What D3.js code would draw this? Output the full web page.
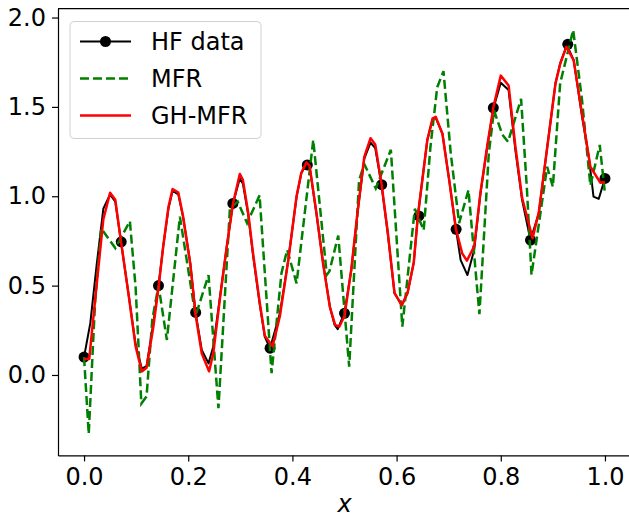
<!DOCTYPE html>
<html>
<head>
<meta charset="utf-8">
<script src="https://cdn.jsdelivr.net/npm/d3@7"></script>
<style>
  body { margin: 0; background: #fff; }
  svg { display: block; }
  text { font-family: "DejaVu Sans", sans-serif; }
</style>
</head>
<body>
<svg id="chart" width="629" height="519"></svg>
<script>
// HF samples (markers)
const hfDataX = [0.0, 0.0714, 0.1429, 0.2143, 0.2857, 0.3571, 0.4286, 0.5, 0.5714, 0.6429, 0.7143, 0.7857, 0.8571, 0.9286, 1.0];
const hfDataY = [0.10, 0.745, 0.50, 0.35, 0.96, 0.15, 1.175, 0.345, 1.065, 0.89, 0.815, 1.495, 0.755, 1.85, 1.10];

// HF reference curve (black)
const hfCurveX = [0.000,0.012,0.024,0.037,0.050,0.060,0.071,0.086,0.099,0.111,0.120,0.133,0.143,0.152,0.162,0.170,0.181,0.190,0.204,0.214,0.226,0.239,0.248,0.261,0.274,0.286,0.299,0.305,0.315,0.324,0.337,0.347,0.357,0.376,0.392,0.408,0.417,0.427,0.433,0.446,0.459,0.472,0.481,0.487,0.500,0.513,0.525,0.538,0.550,0.559,0.571,0.583,0.596,0.610,0.621,0.633,0.641,0.659,0.669,0.675,0.688,0.701,0.714,0.723,0.736,0.749,0.761,0.774,0.786,0.800,0.815,0.828,0.841,0.857,0.873,0.885,0.905,0.914,0.927,0.940,0.956,0.969,0.978,0.988,1.000];
const hfCurveY = [0.10,0.29,0.61,0.93,1.01,0.97,0.745,0.44,0.17,0.035,0.05,0.29,0.50,0.72,0.93,1.03,1.01,0.886,0.625,0.35,0.14,0.065,0.158,0.438,0.718,0.96,1.10,1.07,0.90,0.68,0.40,0.214,0.149,0.345,0.643,0.997,1.128,1.18,1.165,0.905,0.625,0.38,0.28,0.256,0.349,0.587,0.905,1.21,1.30,1.27,1.065,0.793,0.457,0.39,0.457,0.63,0.895,1.315,1.43,1.44,1.35,1.09,0.815,0.643,0.559,0.70,1.016,1.277,1.492,1.635,1.594,1.259,0.979,0.755,0.905,1.18,1.632,1.743,1.846,1.762,1.445,1.221,0.998,0.985,1.10];

// MFR prediction (green dashed)
const mfrX = [0.000,0.009,0.021,0.033,0.060,0.088,0.099,0.110,0.120,0.131,0.143,0.159,0.184,0.214,0.239,0.258,0.280,0.295,0.313,0.337,0.360,0.379,0.390,0.408,0.440,0.466,0.471,0.488,0.509,0.528,0.538,0.560,0.589,0.611,0.635,0.652,0.665,0.678,0.690,0.704,0.720,0.738,0.759,0.777,0.787,0.803,0.814,0.839,0.850,0.859,0.889,0.900,0.914,0.939,0.956,0.972,0.990,1.000];
const mfrY = [0.10,-0.33,0.40,0.82,0.71,0.86,0.49,-0.16,-0.12,0.31,0.50,0.196,0.886,0.33,0.559,-0.186,0.93,0.97,0.85,1.005,0.01,0.57,0.70,0.513,1.315,0.56,0.58,0.78,0.046,1.09,1.18,1.044,1.26,0.27,0.93,0.81,1.277,1.61,1.70,1.24,0.85,1.035,0.34,1.24,1.48,1.345,1.305,1.545,1.05,0.56,1.165,1.053,1.632,1.93,1.538,1.06,1.287,1.016];

// GH-MFR prediction (red)
const ghX = [0.000,0.010,0.024,0.037,0.050,0.060,0.071,0.086,0.099,0.111,0.120,0.133,0.143,0.152,0.162,0.170,0.181,0.190,0.204,0.214,0.226,0.240,0.248,0.261,0.274,0.286,0.299,0.305,0.315,0.324,0.337,0.347,0.362,0.376,0.392,0.408,0.417,0.427,0.433,0.446,0.459,0.472,0.482,0.490,0.500,0.513,0.525,0.538,0.550,0.559,0.571,0.583,0.596,0.610,0.621,0.633,0.641,0.659,0.669,0.675,0.688,0.701,0.714,0.726,0.735,0.749,0.761,0.774,0.786,0.800,0.815,0.828,0.841,0.861,0.873,0.885,0.905,0.914,0.926,0.940,0.956,0.972,0.991,1.000];
const ghY = [0.09,0.09,0.50,0.87,1.02,0.98,0.745,0.44,0.16,0.02,0.04,0.27,0.49,0.72,0.94,1.04,1.02,0.89,0.62,0.34,0.12,0.02,0.12,0.43,0.72,0.96,1.125,1.09,0.91,0.69,0.41,0.22,0.16,0.33,0.64,1.00,1.13,1.19,1.17,0.91,0.62,0.38,0.28,0.27,0.33,0.59,0.91,1.22,1.325,1.29,1.07,0.80,0.46,0.39,0.46,0.63,0.895,1.315,1.435,1.445,1.35,1.09,0.815,0.68,0.64,0.72,1.02,1.28,1.50,1.675,1.62,1.28,0.99,0.765,0.91,1.18,1.63,1.74,1.837,1.76,1.46,1.165,1.076,1.08];

const xTicks = [0.0, 0.2, 0.4, 0.6, 0.8, 1.0];
const yTicks = [0.0, 0.5, 1.0, 1.5, 2.0];
const legendLabels = ["HF data", "MFR", "GH-MFR"];

const svg = d3.select("#chart");
const padL = 58, padR = 631, padT = 8.6, padB = 455.4;

const x = d3.scaleLinear().domain([-0.05, 1.05]).range([padL, padR]);
const y = d3.scaleLinear().domain([-0.45, 2.05]).range([padB, padT]);

const pts = (xs, ys) => d3.zip(xs, ys);
const line = d3.line().x(d => x(d[0])).y(d => y(d[1]));

// curves: HF first, then MFR, then GH-MFR on top
svg.append("path")
    .datum(pts(hfCurveX, hfCurveY))
    .attr("fill", "none")
    .attr("stroke", "#000")
    .attr("stroke-width", 2)
    .attr("stroke-linejoin", "round")
    .attr("d", line);

svg.selectAll(".hfdot")
    .data(pts(hfDataX, hfDataY))
    .join("circle")
    .attr("class", "hfdot")
    .attr("cx", d => x(d[0]))
    .attr("cy", d => y(d[1]))
    .attr("r", 5.5)
    .attr("fill", "#000");

svg.append("path")
    .datum(pts(mfrX, mfrY))
    .attr("fill", "none")
    .attr("stroke", "#008000")
    .attr("stroke-width", 2.5)
    .attr("stroke-dasharray", "9,4")
    .attr("d", line);

svg.append("path")
    .datum(pts(ghX, ghY))
    .attr("fill", "none")
    .attr("stroke", "#ff0000")
    .attr("stroke-width", 2.5)
    .attr("stroke-linejoin", "round")
    .attr("d", line);

// axes
const xAxis = svg.append("g")
    .attr("transform", `translate(0,${padB})`)
    .call(d3.axisBottom(x).tickValues(xTicks).tickFormat(d3.format(".1f")).tickSize(6).tickSizeOuter(0).tickPadding(7));
const yAxis = svg.append("g")
    .attr("transform", `translate(${padL},0)`)
    .call(d3.axisLeft(y).tickValues(yTicks).tickFormat(d3.format(".1f")).tickSize(6).tickSizeOuter(0).tickPadding(6));

[xAxis, yAxis].forEach(g => {
    g.selectAll("text").attr("font-size", 24).attr("fill", "#000").attr("font-family", "DejaVu Sans");
    g.selectAll("line").attr("stroke", "#000").attr("stroke-width", 1.2);
    g.select(".domain").attr("stroke", "#000").attr("stroke-width", 1.2);
});

// top / right spines
svg.append("line").attr("x1", padL).attr("x2", padR).attr("y1", padT).attr("y2", padT)
    .attr("stroke", "#000").attr("stroke-width", 1.2);
svg.append("line").attr("x1", padR).attr("x2", padR).attr("y1", padT).attr("y2", padB)
    .attr("stroke", "#000").attr("stroke-width", 1.2);

svg.append("text")
    .attr("x", (padL + padR) / 2)
    .attr("y", 512)
    .attr("text-anchor", "middle")
    .attr("font-size", 24)
    .attr("font-style", "italic")
    .text("x");

// legend
const lg = svg.append("g");
lg.append("rect")
    .attr("x", 70).attr("y", 21.5)
    .attr("width", 191).attr("height", 117)
    .attr("rx", 4)
    .attr("fill", "#fff").attr("fill-opacity", 0.8)
    .attr("stroke", "#d0d0d0").attr("stroke-width", 1);

const legendStyle = [
    { color: "#000", dash: null, width: 2, marker: true },
    { color: "#008000", dash: "9,4", width: 2.5, marker: false },
    { color: "#ff0000", dash: null, width: 2.5, marker: false }
];
legendLabels.forEach((lab, i) => {
    const cy = 41.5 + i * 37;
    const s = legendStyle[i];
    lg.append("line")
        .attr("x1", 80).attr("x2", 131).attr("y1", cy).attr("y2", cy)
        .attr("stroke", s.color).attr("stroke-width", s.width)
        .attr("stroke-dasharray", s.dash);
    if (s.marker) {
        lg.append("circle").attr("cx", 105.5).attr("cy", cy).attr("r", 5.5).attr("fill", "#000");
    }
    lg.append("text")
        .attr("x", 151).attr("y", cy + 8.5)
        .attr("font-size", 24)
        .text(lab);
});
</script>
</body>
</html>
